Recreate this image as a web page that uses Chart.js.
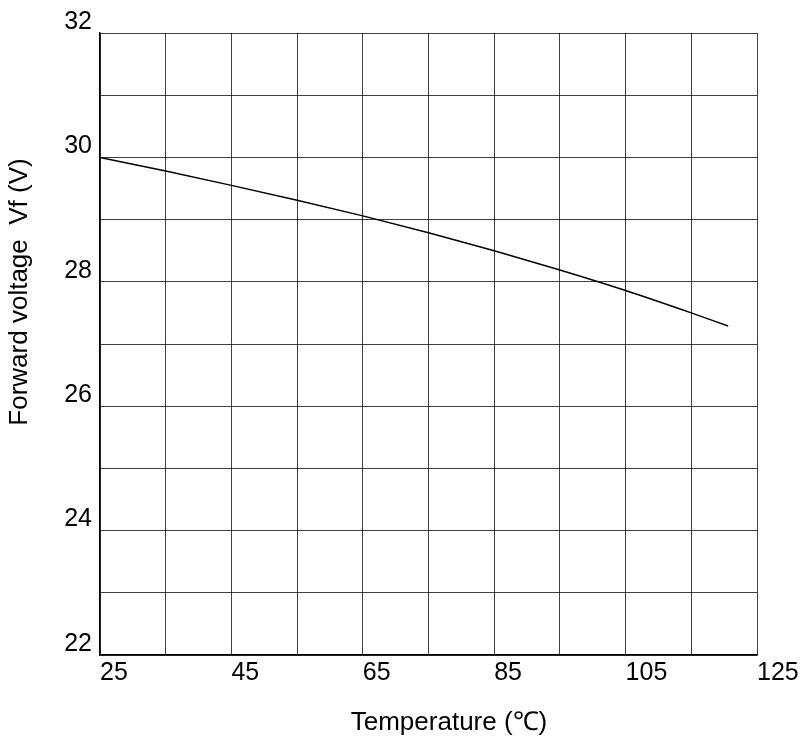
<!DOCTYPE html>
<html><head><meta charset="utf-8">
<script src="https://cdn.jsdelivr.net/npm/chart.js@4.4.0/dist/chart.umd.min.js"></script>
<style>html,body{margin:0;padding:0;background:#fff;} #wrap{width:804px;height:745px;}</style>
</head><body><div id="wrap"><canvas id="c" width="804" height="745"></canvas></div>
<script>
const temperatures = [25, 35, 45, 55, 65, 75, 85, 95, 105, 115, 120.6];
const forwardVoltage = [30.0, 29.78, 29.55, 29.31, 29.06, 28.79, 28.50, 28.19, 27.86, 27.50, 27.29];
const xTickLabels = [25, 45, 65, 85, 105, 125];
const yTickLabels = [22, 24, 26, 28, 30, 32];
const xTitle = 'Temperature (\u2103)';
const yTitle = 'Forward voltage  Vf (V)';

const FONT = '"Liberation Sans", Arial, sans-serif';

const axisTitles = {
  id: 'axisTitles',
  afterDraw(chart) {
    const ctx = chart.ctx;
    ctx.save();
    ctx.fillStyle = '#000';
    ctx.font = '26px ' + FONT;
    ctx.textAlign = 'center';
    ctx.textBaseline = 'middle';
    ctx.fillText(xTitle, 449, 723);
    ctx.translate(20, 292);
    ctx.rotate(-Math.PI / 2);
    ctx.fillText(yTitle, 0, 0);
    ctx.restore();
  }
};

new Chart(document.getElementById('c'), {
  type: 'line',
  data: {
    datasets: [{
      data: temperatures.map((t, i) => ({x: t, y: forwardVoltage[i]})),
      borderColor: '#000',
      borderWidth: 1.5,
      pointRadius: 0,
      fill: false,
      cubicInterpolationMode: 'monotone'
    }]
  },
  options: {
    responsive: false,
    animation: false,
    layout: {padding: {top: 33, right: 47, bottom: 50, left: 0}},
    plugins: {legend: {display: false}, tooltip: {enabled: false}},
    scales: {
      x: {
        type: 'linear', min: 25, max: 125,
        afterFit(s) { s.height = 40; },
        border: {color: '#000', width: 1.5},
        grid: {color: 'rgba(0,0,0,0.75)', lineWidth: 1, drawTicks: false},
        ticks: {
          stepSize: 10, align: 'start', padding: 3, color: '#000', maxRotation: 0, autoSkip: false,
          font: {family: FONT, size: 25},
          callback: v => xTickLabels.includes(v) ? String(v) : ''
        }
      },
      y: {
        min: 22, max: 32,
        afterFit(s) { s.width = 100; },
        border: {color: '#000', width: 1.5},
        grid: {color: 'rgba(0,0,0,0.75)', lineWidth: 1, drawTicks: false},
        ticks: {
          stepSize: 1, padding: 8, color: '#000', autoSkip: false,
          font: {family: FONT, size: 25, lineHeight: '22px'},
          callback: v => yTickLabels.includes(v) ? [String(v), ''] : ''
        }
      }
    }
  },
  plugins: [axisTitles]
});
</script></body></html>
